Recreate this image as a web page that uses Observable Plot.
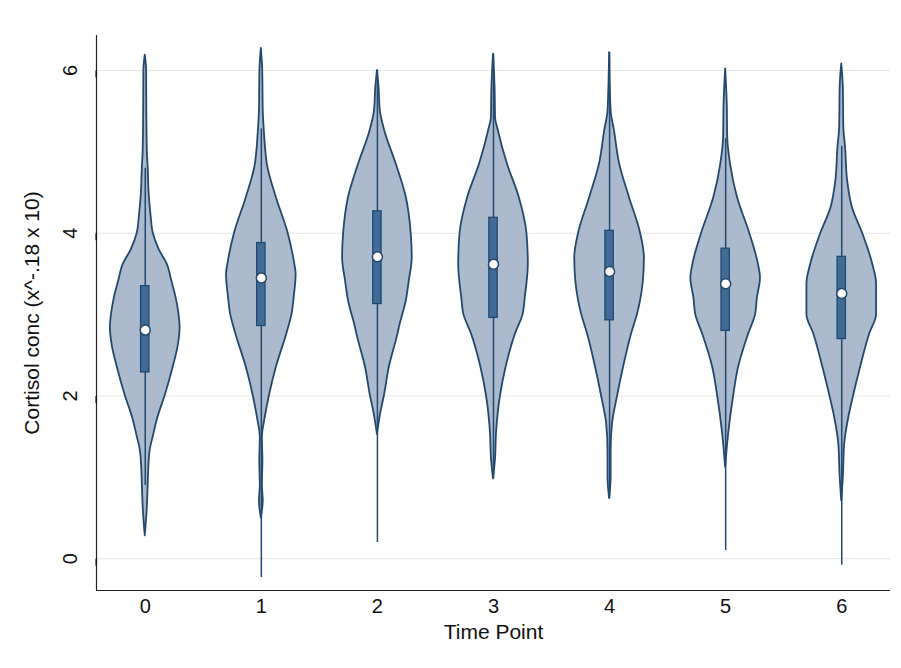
<!DOCTYPE html>
<html>
<head>
<meta charset="utf-8">
<script src="https://cdn.jsdelivr.net/npm/d3@7"></script>
<script src="https://cdn.jsdelivr.net/npm/@observablehq/plot@0.6"></script>
<style>
  html, body { margin: 0; padding: 0; background: #fff; }
  #chart { width: 901px; height: 668px; }
</style>
</head>
<body>
<div id="chart"></div>
<script>
// Time points (categories)
const timePoints = [0, 1, 2, 3, 4, 5, 6];

// Box-plot summary per time point
const medians = [2.81, 3.45, 3.71, 3.62, 3.53, 3.38, 3.26];
const q1 = [2.29, 2.86, 3.13, 2.96, 2.93, 2.80, 2.70];
const q3 = [3.35, 3.88, 4.27, 4.19, 4.03, 3.81, 3.71];
const whiskerLow = [0.90, -0.23, 0.20, 0.98, 0.74, 0.10, -0.08];
const whiskerHigh = [4.80, 5.28, 6.00, 6.20, 6.22, 5.16, 5.07];

// Violin density profiles: [value, relative density (max = 1)]
const density0 = [[6.19,0],[6.0,0.04],[5.5,0.045],[5.0,0.06],[4.8,0.085],[4.5,0.11],[4.2,0.17],[4.0,0.23],[3.8,0.40],[3.62,0.63],[3.4,0.77],[3.2,0.89],[3.0,0.97],[2.84,1.0],[2.6,0.94],[2.35,0.80],[2.0,0.57],[1.73,0.36],[1.5,0.23],[1.33,0.14],[1.1,0.10],[0.92,0.085],[0.6,0.055],[0.28,0]];
const density1 = [[6.27,0],[6.0,0.04],[5.5,0.055],[5.26,0.085],[5.0,0.13],[4.85,0.17],[4.44,0.43],[4.0,0.77],[3.62,0.96],[3.5,1.0],[3.2,0.94],[3.0,0.88],[2.76,0.73],[2.35,0.43],[2.0,0.23],[1.73,0.11],[1.49,0.03],[1.2,0.045],[0.9,0.03],[0.71,0.055],[0.5,0]];
const density2 = [[6.0,0],[5.8,0.045],[5.5,0.085],[5.26,0.21],[4.85,0.54],[4.44,0.83],[4.0,0.97],[3.7,1.0],[3.4,0.91],[3.17,0.83],[2.84,0.63],[2.76,0.59],[2.35,0.34],[2.0,0.20],[1.82,0.11],[1.53,0]];
const density3 = [[6.2,0],[5.8,0.045],[5.42,0.06],[5.26,0.14],[4.85,0.40],[4.44,0.74],[4.0,0.96],[3.62,1.0],[3.2,0.91],[3.0,0.85],[2.76,0.63],[2.35,0.36],[2.0,0.20],[1.53,0.085],[1.24,0.06],[0.98,0]];
const density4 = [[6.22,0],[5.5,0.045],[5.26,0.14],[4.85,0.29],[4.44,0.57],[4.0,0.89],[3.7,1.0],[3.41,0.97],[3.17,0.89],[3.0,0.80],[2.76,0.63],[2.35,0.40],[2.0,0.23],[1.66,0.085],[1.33,0.045],[1.0,0.045],[0.74,0]];
const density5 = [[6.02,0],[5.6,0.045],[5.17,0.06],[4.85,0.14],[4.44,0.34],[4.0,0.69],[3.62,0.94],[3.45,1.0],[3.2,0.91],[3.0,0.86],[2.76,0.66],[2.35,0.37],[2.0,0.23],[1.53,0.085],[1.12,0]];
const density6 = [[6.08,0],[5.8,0.045],[5.3,0.06],[5.05,0.11],[4.64,0.17],[4.31,0.31],[4.0,0.60],[3.62,0.89],[3.38,1.0],[3.0,1.0],[2.76,0.80],[2.35,0.54],[2.0,0.34],[1.73,0.20],[1.41,0.085],[1.0,0.045],[0.71,0]];
const densities = [density0, density1, density2, density3, density4, density5, density6];

// Axis ticks and labels
const yTicks = [0, 2, 4, 6];
const xTicks = [0, 1, 2, 3, 4, 5, 6];
const yLabel = "Cortisol conc (x^-.18 x 10)";
const xLabel = "Time Point";

const xDomain = [-0.42, 6.42];
const yDomain = [-0.39, 6.43];
const halfWidth = 0.30; // max violin half-width in time-point units

const violinRows = densities.flatMap((prof, i) =>
  prof.map(([v, d]) => ({t: timePoints[i], v, d}))
);
const boxRows = timePoints.map((t, i) => ({
  t, med: medians[i], q1: q1[i], q3: q3[i], lo: whiskerLow[i], hi: whiskerHigh[i]
}));

const navy = "#24496f";
const violinFill = "#abbacc";
const boxFill = "#3f6b96";
const fmt = d3.format("d");

const chart = Plot.plot({
  width: 901,
  height: 668,
  marginLeft: 96,
  marginRight: 11,
  marginTop: 35,
  marginBottom: 78,
  style: {fontFamily: "'Liberation Sans', Arial, Helvetica, sans-serif", background: "#fff"},
  x: {domain: xDomain, ticks: xTicks},
  y: {domain: yDomain, ticks: yTicks},
  marks: [
    Plot.gridY(yTicks, {stroke: "#e6e6e6", strokeOpacity: 1, strokeWidth: 1.2}),
    Plot.ruleX([xDomain[0]], {stroke: "#222", strokeWidth: 1.2}),
    Plot.ruleY([yDomain[0]], {stroke: "#222", strokeWidth: 1.2}),
    Plot.axisY(yTicks, {
      tickSize: 7, tickPadding: 13, rotate: -90, textAnchor: "middle", lineAnchor: "bottom",
      fontSize: 20, fill: "#111", label: null, tickFormat: fmt
    }),
    Plot.axisX(xTicks, {
      tickSize: 0, tickPadding: 8, fontSize: 20, fill: "#111", label: null, tickFormat: fmt
    }),
    Plot.text([yLabel], {
      frameAnchor: "left", dx: -64, rotate: -90, fontSize: 21, fill: "#111", textAnchor: "middle"
    }),
    Plot.text([xLabel], {
      frameAnchor: "bottom", dy: 42, fontSize: 21, fill: "#111", lineAnchor: "middle"
    }),
    Plot.areaX(violinRows, {
      z: "t",
      y: "v",
      x1: d => d.t - d.d * halfWidth,
      x2: d => d.t + d.d * halfWidth,
      fill: violinFill,
      stroke: navy,
      strokeWidth: 1.8,
      curve: "monotone-y"
    }),
    Plot.ruleX(boxRows, {x: "t", y1: "lo", y2: "hi", stroke: navy, strokeWidth: 1.5}),
    Plot.rect(boxRows, {
      x1: d => d.t - 0.036, x2: d => d.t + 0.036, y1: "q1", y2: "q3",
      fill: boxFill, stroke: navy, strokeWidth: 1.3
    }),
    Plot.dot(boxRows, {x: "t", y: "med", r: 5, fill: "white", stroke: navy, strokeWidth: 1.5})
  ]
});

document.getElementById("chart").appendChild(chart);
</script>
</body>
</html>
